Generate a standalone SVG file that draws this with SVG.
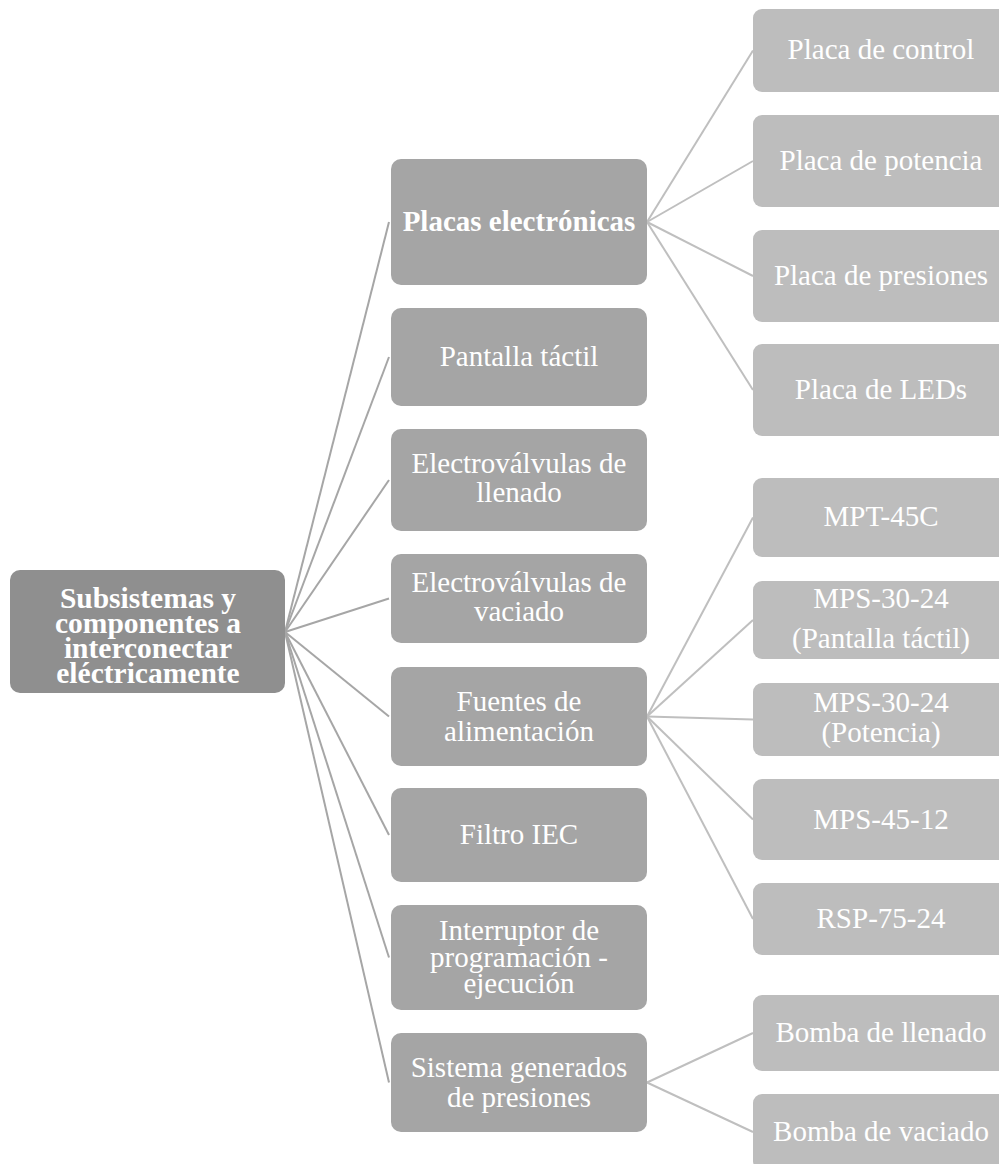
<svg xmlns="http://www.w3.org/2000/svg" width="999" height="1164" viewBox="0 0 999 1164">
<style>
.root{fill:#8f8f8f}
.mid{fill:#a5a5a5}
.leaf{fill:#bdbdbd}
.c1{stroke:#a6a6a6;stroke-width:2;fill:none}
.c2{stroke:#bfbfbf;stroke-width:2;fill:none}
text{font-family:"Liberation Serif","Times New Roman",serif;fill:#ffffff;text-anchor:middle;font-size:29px}
.b{font-weight:bold}
.rt{font-size:29.5px;font-weight:bold}
</style>
<rect width="999" height="1164" fill="#ffffff"/>
<g id="connectors">
<line class="c1" x1="285" y1="632" x2="389" y2="222"/>
<line class="c1" x1="285" y1="632" x2="389" y2="357"/>
<line class="c1" x1="285" y1="632" x2="389" y2="480"/>
<line class="c1" x1="285" y1="632" x2="389" y2="598.5"/>
<line class="c1" x1="285" y1="632" x2="389" y2="716.5"/>
<line class="c1" x1="285" y1="632" x2="389" y2="835"/>
<line class="c1" x1="285" y1="632" x2="389" y2="957.5"/>
<line class="c1" x1="285" y1="632" x2="389" y2="1082.5"/>
<line class="c2" x1="647" y1="222" x2="753" y2="50.5"/>
<line class="c2" x1="647" y1="222" x2="753" y2="161"/>
<line class="c2" x1="647" y1="222" x2="753" y2="276"/>
<line class="c2" x1="647" y1="222" x2="753" y2="390"/>
<line class="c2" x1="647" y1="716.5" x2="753" y2="517.5"/>
<line class="c2" x1="647" y1="716.5" x2="753" y2="620"/>
<line class="c2" x1="647" y1="716.5" x2="753" y2="719.5"/>
<line class="c2" x1="647" y1="716.5" x2="753" y2="819.5"/>
<line class="c2" x1="647" y1="716.5" x2="753" y2="919"/>
<line class="c2" x1="647" y1="1082.5" x2="753" y2="1033"/>
<line class="c2" x1="647" y1="1082.5" x2="753" y2="1132"/>
</g>
<g id="root">
<rect class="root" x="10" y="570" width="275" height="123" rx="10"/>
<text class="rt" x="148" y="608">Subsistemas y</text>
<text class="rt" x="148" y="633">componentes a</text>
<text class="rt" x="148" y="658">interconectar</text>
<text class="rt" x="148" y="683">eléctricamente</text>
</g>
<g id="placas">
<rect class="mid" x="391" y="159" width="256" height="126" rx="10"/>
<text class="b" x="519" y="231">Placas electrónicas</text>
</g>
<g id="pantalla">
<rect class="mid" x="391" y="308" width="256" height="98" rx="10"/>
<text x="519" y="366">Pantalla táctil</text>
</g>
<g id="ev-llenado">
<rect class="mid" x="391" y="429" width="256" height="102" rx="10"/>
<text x="519" y="473">Electroválvulas de</text>
<text x="519" y="502">llenado</text>
</g>
<g id="ev-vaciado">
<rect class="mid" x="391" y="554" width="256" height="89" rx="10"/>
<text x="519" y="592">Electroválvulas de</text>
<text x="519" y="621">vaciado</text>
</g>
<g id="fuentes">
<rect class="mid" x="391" y="667" width="256" height="99" rx="10"/>
<text x="519" y="710.5">Fuentes de</text>
<text x="519" y="740.5">alimentación</text>
</g>
<g id="filtro">
<rect class="mid" x="391" y="788" width="256" height="94" rx="10"/>
<text x="519" y="844">Filtro IEC</text>
</g>
<g id="interruptor">
<rect class="mid" x="391" y="905" width="256" height="105" rx="10"/>
<text x="519" y="940">Interruptor de</text>
<text x="519" y="966.5">programación -</text>
<text x="519" y="993">ejecución</text>
</g>
<g id="sistema">
<rect class="mid" x="391" y="1033" width="256" height="99" rx="10"/>
<text x="519" y="1077">Sistema generados</text>
<text x="519" y="1107">de presiones</text>
</g>
<g id="placa-control">
<rect class="leaf" x="753" y="9" width="256" height="83" rx="9"/>
<text x="881" y="59">Placa de control</text>
</g>
<g id="placa-potencia">
<rect class="leaf" x="753" y="115" width="256" height="92" rx="9"/>
<text x="881" y="170">Placa de potencia</text>
</g>
<g id="placa-presiones">
<rect class="leaf" x="753" y="230" width="256" height="92" rx="9"/>
<text x="881" y="285">Placa de presiones</text>
</g>
<g id="placa-leds">
<rect class="leaf" x="753" y="344" width="256" height="92" rx="9"/>
<text x="881" y="399">Placa de LEDs</text>
</g>
<g id="mpt-45c">
<rect class="leaf" x="753" y="478" width="256" height="79" rx="9"/>
<text x="881" y="526">MPT-45C</text>
</g>
<g id="mps-30-24-pantalla">
<rect class="leaf" x="753" y="581" width="256" height="78" rx="9"/>
<text x="881" y="608">MPS-30-24</text>
<text x="881" y="648">(Pantalla táctil)</text>
</g>
<g id="mps-30-24-potencia">
<rect class="leaf" x="753" y="683" width="256" height="73" rx="9"/>
<text x="881" y="712">MPS-30-24</text>
<text x="881" y="742">(Potencia)</text>
</g>
<g id="mps-45-12">
<rect class="leaf" x="753" y="779" width="256" height="81" rx="9"/>
<text x="881" y="828.5">MPS-45-12</text>
</g>
<g id="rsp-75-24">
<rect class="leaf" x="753" y="883" width="256" height="72" rx="9"/>
<text x="881" y="928">RSP-75-24</text>
</g>
<g id="bomba-llenado">
<rect class="leaf" x="753" y="995" width="256" height="76" rx="9"/>
<text x="881" y="1042">Bomba de llenado</text>
</g>
<g id="bomba-vaciado">
<rect class="leaf" x="753" y="1094" width="256" height="76" rx="9"/>
<text x="881" y="1141">Bomba de vaciado</text>
</g>
</svg>
